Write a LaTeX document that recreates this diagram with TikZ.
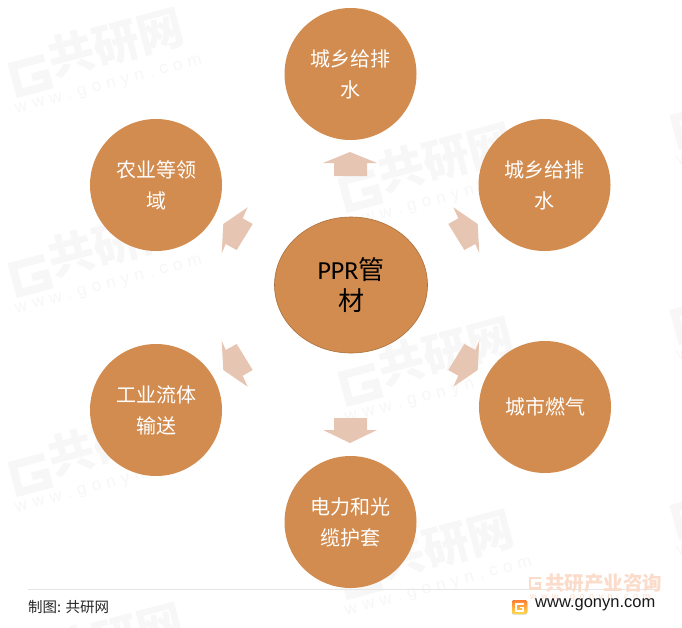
\documentclass[tikz,border=0pt]{standalone}
\usepackage{fontspec}
\setmainfont{Noto Sans CJK SC}
\newfontfamily\latinf{Carlito}
\newfontfamily\arialf{Liberation Sans}
\definecolor{petal}{HTML}{D38C4F}
\definecolor{blockar}{HTML}{E6C5B3}
\definecolor{wmark}{HTML}{F7F7F7}
\definecolor{brandc}{HTML}{FBDCCB}
\tikzset{
  x=1pt,y=-1pt,
  petalnode/.style={circle,fill=petal,minimum size=132pt,inner sep=0pt,text=white,align=center,text width=90pt,font=\fontsize{20}{31}\selectfont},
  hubnode/.style={ellipse,draw=petal!80!black,line width=0.6pt,fill=petal,minimum width=153pt,minimum height=136pt,inner sep=0pt,align=center,text width=90pt,font=\fontsize{26}{31}\selectfont},
  blockarrow/.style={fill=blockar,draw=none},
  wmtext/.style={text=wmark,inner sep=0pt,transform shape},
  wm/.pic={
    \draw[wmark,line width=8pt] (-55,-10) -- (-88,-10) -- (-88,18) -- (-58,18) -- (-58,6) -- (-72,6);
    \node[wmtext,font=\fontsize{46}{46}\selectfont\bfseries] at (18,-6) {共研网};
    \node[wmtext,font=\fontsize{17}{17}\selectfont\arialf] at (0,34) {w\,\,w\,\,w\,\,.\,\,g\,\,o\,\,n\,\,y\,\,n\,\,.\,\,c\,\,o\,\,m};
  }
}
\usetikzlibrary{shapes.geometric}
\begin{document}
\begin{tikzpicture}
\useasboundingbox (0,0) rectangle (682,627);
\fill[white] (0,0) rectangle (682,627);
\begin{scope}
\clip (0,0) rectangle (682,627);
\foreach \px/\py in {100/53,430/168,100/253,430/362,100/452,430/555,100/648,762/105,762/300,762/495}
  \pic[rotate=15] at (\px,\py) {wm};
\end{scope}
% block arrows
\fill[blockarrow] (334,176) -- (334,163) -- (323,163) -- (350,152) -- (377,163) -- (367,163) -- (367,176) -- cycle;
\fill[blockarrow] (334,418) -- (334,430) -- (323,430) -- (350,443) -- (377,430) -- (367,430) -- (367,418) -- cycle;
\fill[blockarrow] (448.3,224) -- (458.3,218.3) -- (453.3,207.3) -- (477.7,224) -- (479.3,253.3) -- (475.3,244) -- (464.3,250) -- cycle;
\fill[blockarrow] (252.7,224) -- (242.7,218.3) -- (247.7,207.3) -- (223.3,224) -- (221.7,253.3) -- (225.7,244) -- (236.7,250) -- cycle;
\fill[blockarrow] (448.3,370) -- (458.3,375.7) -- (453.3,386.7) -- (477.7,370) -- (479.3,340.7) -- (475.3,350) -- (464.3,344) -- cycle;
\fill[blockarrow] (252.7,370) -- (242.7,375.7) -- (247.7,386.7) -- (223.3,370) -- (221.7,340.7) -- (225.7,350) -- (236.7,344) -- cycle;
% nodes
\node[hubnode] (hub) at (351,285) {{\latinf PPR}管\\材};
\node[petalnode] (top) at (350.5,74) {城乡给排\\水};
\node[petalnode] (ur) at (544.5,185) {城乡给排\\水};
\node[petalnode] (lr) at (545,407) {城市燃气};
\node[petalnode] (bot) at (350.5,522) {电力和光\\缆护套};
\node[petalnode] (ll) at (156,410) {工业流体\\输送};
\node[petalnode] (ul) at (156,185) {农业等领\\域};
% footer
\draw[draw=black!10,line width=0.8pt] (28,589.5) -- (660,589.5);
\node[anchor=west,inner sep=0pt,font=\fontsize{14.5}{14.5}\selectfont,text=black!85] (src) at (28,607) {制图: 共研网};
\node[anchor=west,inner sep=0pt,font=\fontsize{19.5}{19.5}\selectfont\bfseries,text=brandc] (brand) at (545,583) {共研产业咨询};
\draw[brandc,line width=2.6pt] (541,578) -- (530,578) -- (530,588.5) -- (540,588.5) -- (540,583.5) -- (535,583.5);
\node[anchor=west,inner sep=0pt,font=\fontsize{9}{9}\selectfont\arialf,text=brandc] (brandw) at (530,598) {w\,\,\,w\,\,\,w\,\,\,.\,\,\,g\,\,\,o\,\,\,n\,\,\,y\,\,\,n\,\,\,.\,\,\,c\,\,\,o\,\,\,m};
\fill[rounded corners=1.5pt,top color=orange!75!red!80,bottom color=yellow!60!orange!70] (512,600) rectangle (527,614);
\draw[white,line width=1.6pt] (524,604) -- (516,604) -- (516,611) -- (523,611) -- (523,607.5) -- (520,607.5);
\node[anchor=west,inner sep=0pt,font=\fontsize{16.5}{16.5}\selectfont\arialf,text=black!90] (url) at (535,605) {www.gonyn.com};
\end{tikzpicture}
\end{document}
